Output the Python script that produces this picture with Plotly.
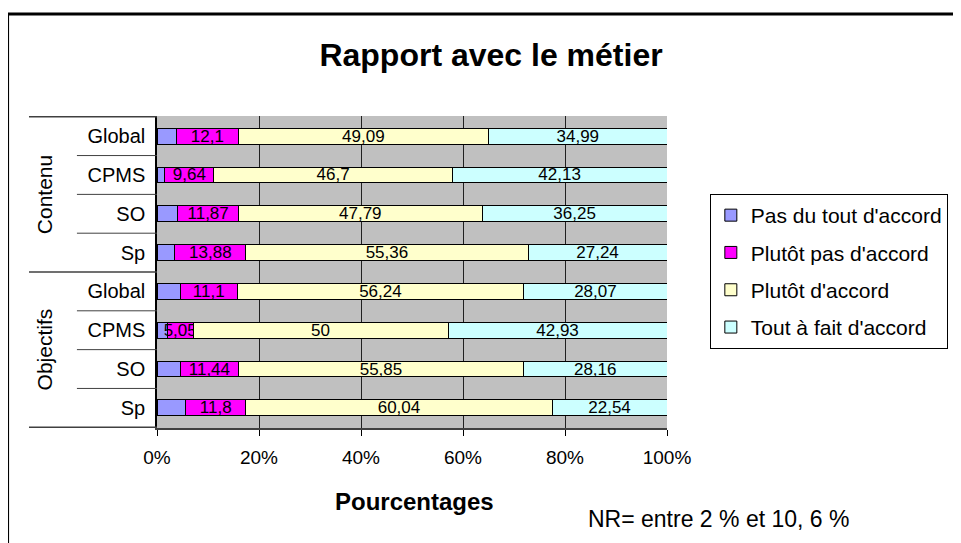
import plotly.graph_objects as go

# ---- data (top-to-bottom order) ----
groups = ["Contenu", "Objectifs"]
categories = ["Global", "CPMS", "SO", "Sp"]
series_names = ["Pas du tout d'accord", "Plutôt pas d'accord", "Plutôt d'accord", "Tout à fait d'accord"]
series_colors = ["#9999FF", "#FF00FF", "#FFFFCC", "#CCFFFF"]

pas_du_tout = [3.82, 1.53, 4.09, 3.52, 4.59, 2.02, 4.55, 5.62]
plutot_pas = [12.1, 9.64, 11.87, 13.88, 11.1, 5.05, 11.44, 11.8]
plutot = [49.09, 46.7, 47.79, 55.36, 56.24, 50, 55.85, 60.04]
tout_a_fait = [34.99, 42.13, 36.25, 27.24, 28.07, 42.93, 28.16, 22.54]
show_labels = [False, True, True, True]

x_ticks = [0, 20, 40, 60, 80, 100]
x_ticktext = ["0%", "20%", "40%", "60%", "80%", "100%"]

FONT = "Arial, 'Liberation Sans', sans-serif"

row_keys = [f"{g}|{c}" for g in groups for c in categories]
row_text = [c for g in groups for c in categories]

fig = go.Figure()
for name, color, vals, lab in zip(series_names, series_colors,
                                  [pas_du_tout, plutot_pas, plutot, tout_a_fait], show_labels):
    fig.add_trace(go.Bar(
        y=row_keys, x=vals, name=name, orientation="h",
        marker=dict(color=color, line=dict(color="black", width=1)),
        text=[f"{v:g}".replace(".", ",") for v in vals] if lab else None,
        textposition="inside" if lab else "none",
        insidetextanchor="middle", textangle=0, constraintext="none",
        textfont=dict(family=FONT, size=17, color="black"),
        legendgroup=name, hoverinfo="skip",
    ))

n = len(row_keys)
shapes = []
# inner dividers (between categories within a group)
for i in range(1, n):
    if i % len(categories) == 0:
        continue
    shapes.append(dict(type="line", xref="paper", yref="y", x0=-0.157, x1=0,
                       y0=i - 0.5, y1=i - 0.5, line=dict(color="#404040", width=1)))
# group dividers
for i in range(0, n + 1, len(categories)):
    shapes.append(dict(type="line", xref="paper", yref="y", x0=-0.251, x1=0,
                       y0=i - 0.5, y1=i - 0.5, line=dict(color="#404040", width=1.5)))
# outer chart border
shapes.append(dict(type="rect", xref="paper", yref="paper", x0=-0.293, x1=1.6,
                   y0=-0.5, y1=1.327, line=dict(color="black", width=3), layer="below"))

annotations = []
for gi, g in enumerate(groups):
    annotations.append(dict(text=g, xref="paper", yref="y", x=-0.22,
                            y=gi * len(categories) + (len(categories) - 1) / 2,
                            textangle=-90, showarrow=False, xanchor="center", yanchor="middle",
                            font=dict(family=FONT, size=21, color="black")))
annotations.append(dict(text="<b>Pourcentages</b>", xref="paper", yref="paper", x=0.504, y=-0.237,
                        showarrow=False, xanchor="center", yanchor="middle",
                        font=dict(family=FONT, size=24, color="black")))
annotations.append(dict(text="NR= entre 2 % et 10, 6 %", xref="paper", yref="paper", x=1.1, y=-0.292,
                        showarrow=False, xanchor="center", yanchor="middle",
                        font=dict(family=FONT, size=23, color="black")))

W, H = 953, 535
fig.update_layout(
    width=W, height=H,
    margin=dict(l=149, r=294, t=108, b=115),
    paper_bgcolor="white", plot_bgcolor="#C0C0C0",
    barmode="stack", bargap=0.59,
    title=dict(text="<b>Rapport avec le métier</b>", x=483 / W, xanchor="center",
               y=1 - 47 / H, yanchor="middle", yref="container",
               font=dict(family=FONT, size=32, color="black")),
    font=dict(family=FONT, color="black"),
    xaxis=dict(range=[0, 100], tickvals=x_ticks, ticktext=x_ticktext,
               showgrid=True, gridcolor="#202020", gridwidth=1,
               showline=True, linecolor="#404040", linewidth=2, mirror=False,
               ticks="outside", ticklen=6, tickcolor="black", ticklabelstandoff=5,
               tickfont=dict(family=FONT, size=19, color="black"), zeroline=False,
               fixedrange=True),
    yaxis=dict(categoryorder="array", categoryarray=row_keys, autorange="reversed",
               tickvals=row_keys, ticktext=row_text, ticks="", showgrid=False,
               showline=True, linecolor="black", linewidth=1.5,
               tickfont=dict(family=FONT, size=20, color="black"), ticklabelstandoff=6,
               fixedrange=True),
    legend=dict(x=1.084, y=0.75, xanchor="left", yanchor="top",
                bordercolor="black", borderwidth=1, bgcolor="white",
                traceorder="grouped", tracegroupgap=7,
                font=dict(family=FONT, size=21, color="black")),
    shapes=shapes, annotations=annotations,
)

fig.write_html("out.html")
